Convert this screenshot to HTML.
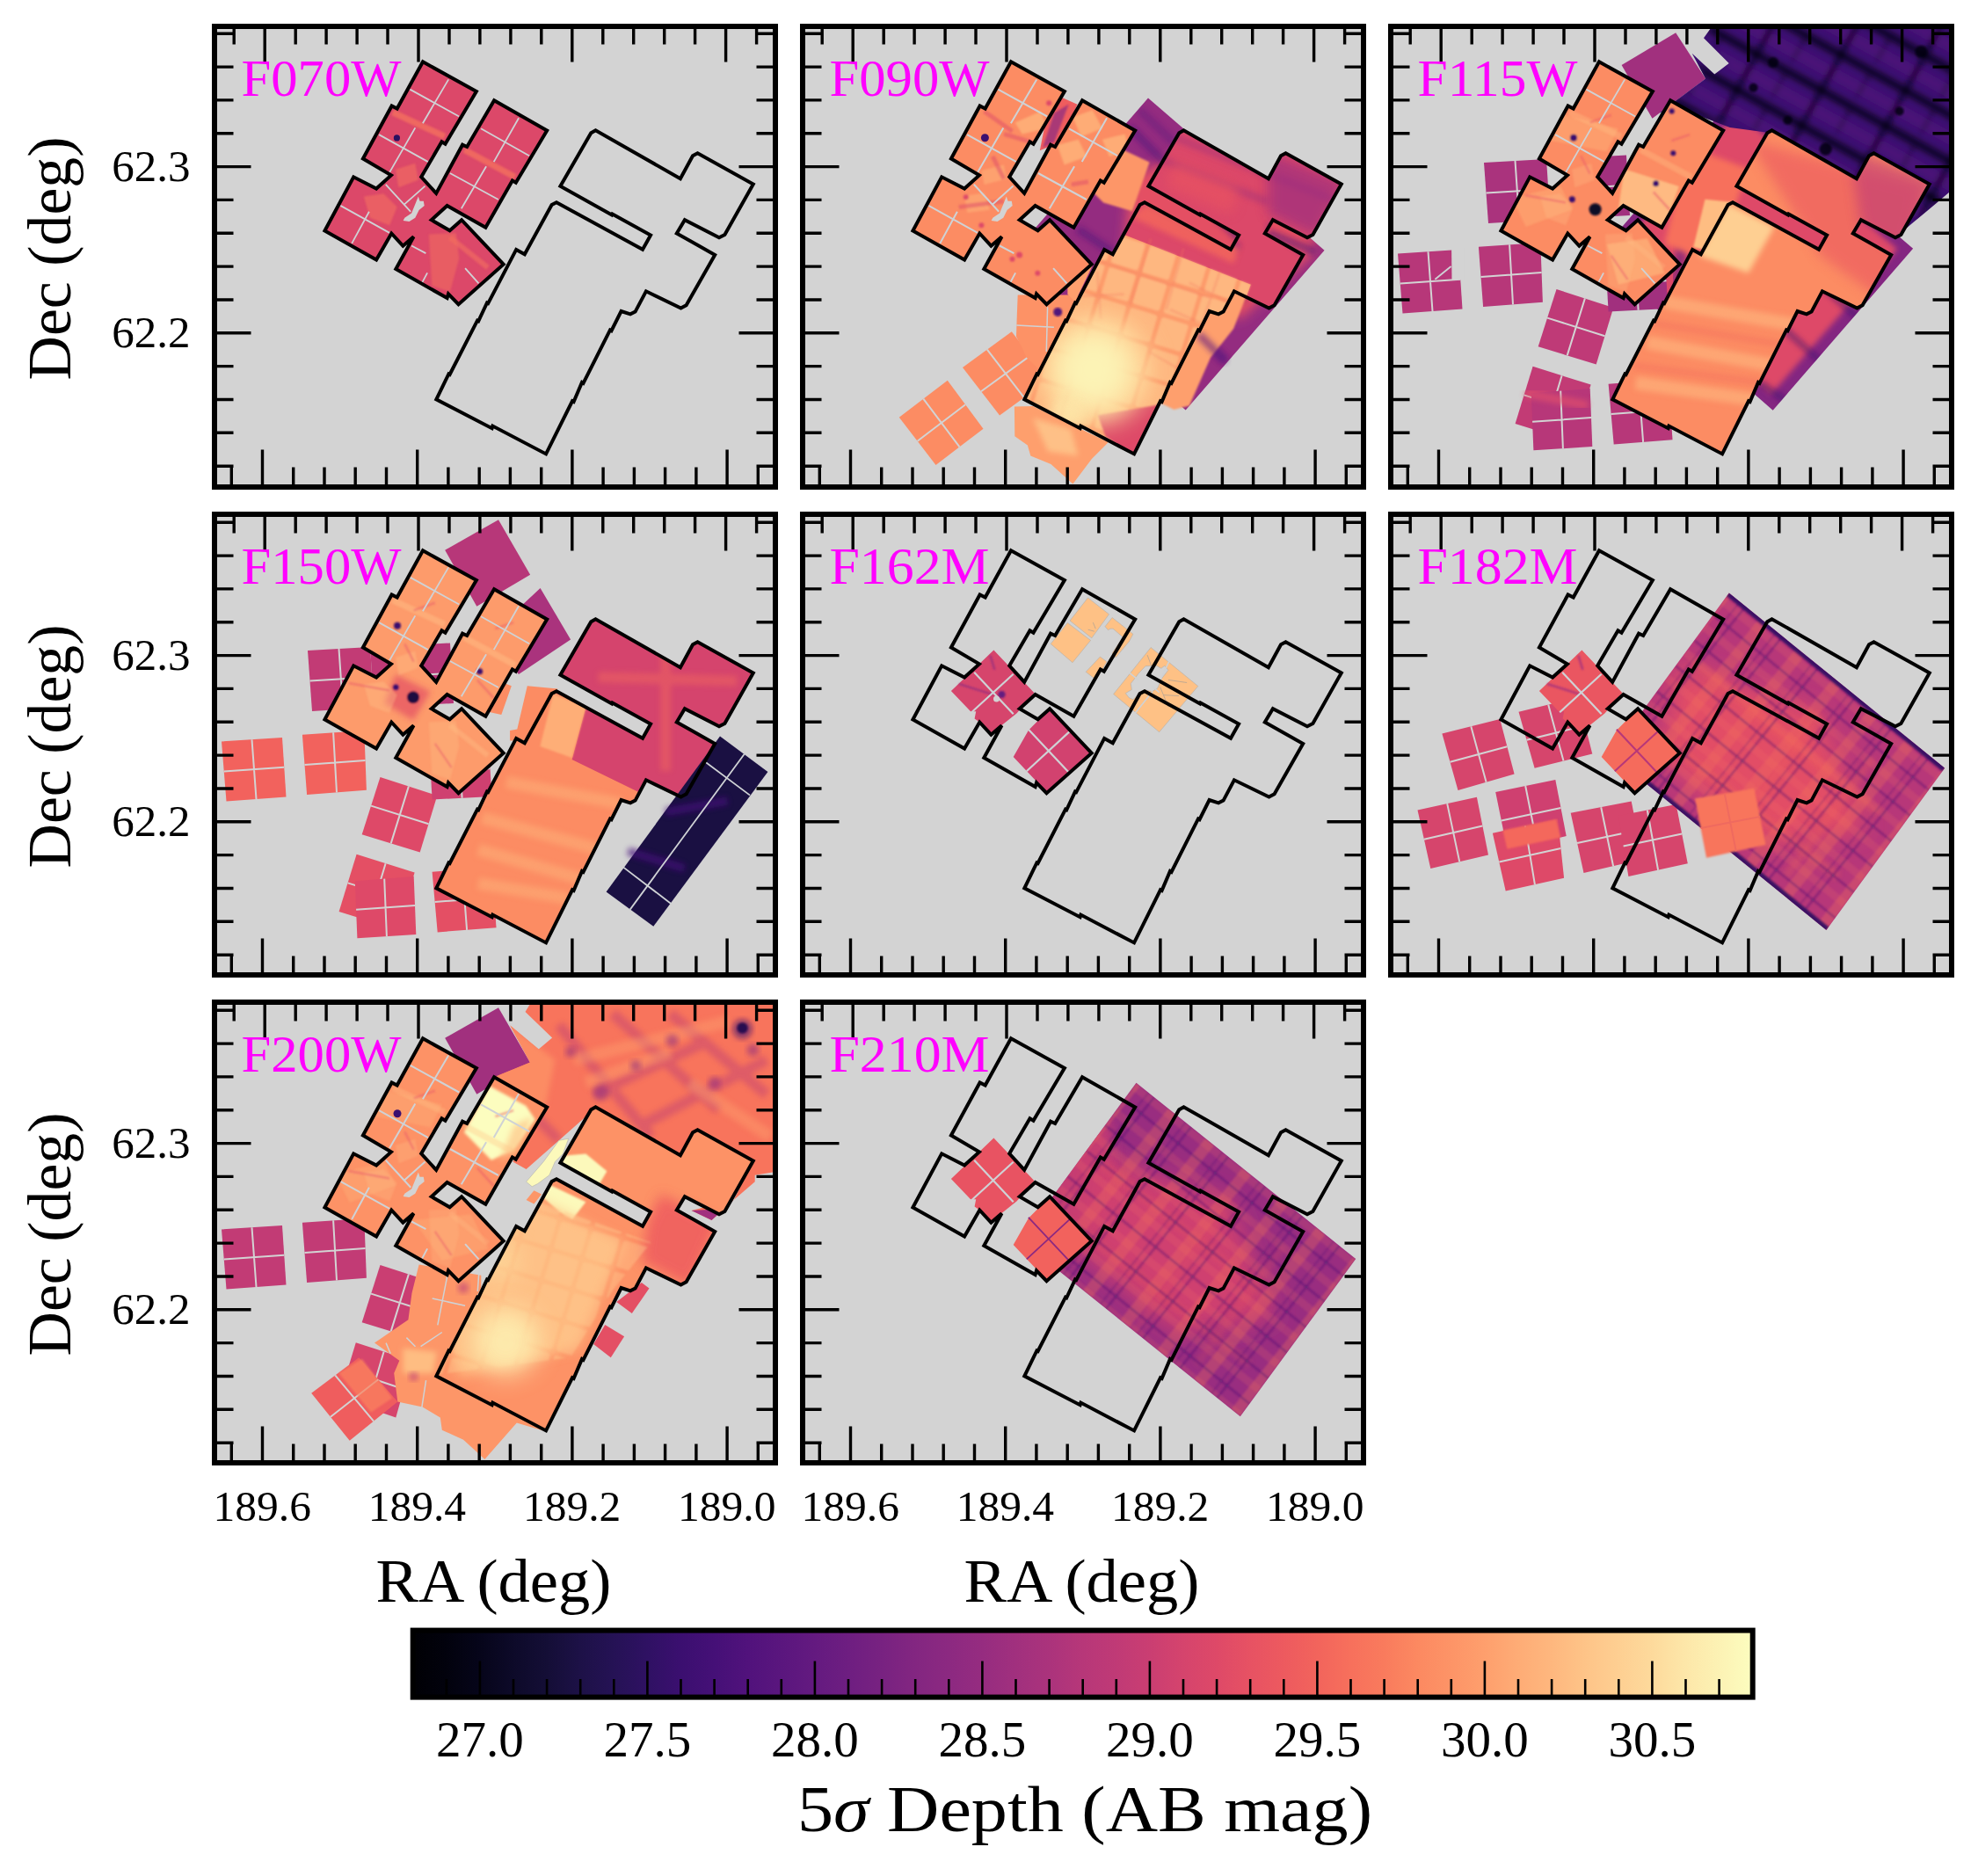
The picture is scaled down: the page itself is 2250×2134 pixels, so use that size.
<!DOCTYPE html>
<html lang="en"><head><meta charset="utf-8"><title>5-sigma depth maps</title>
<style>html,body{margin:0;padding:0;background:#fff}svg{display:block}text{font-family:"Liberation Serif","DejaVu Serif",serif}</style></head><body>
<svg width="2250" height="2134" viewBox="0 0 2250 2134">
<defs>
<clipPath id="cp"><rect x="0" y="0" width="638" height="524"/></clipPath>
<polygon id="oA" points="237,41.3 297.9,75.1 262.5,134.7 258.5,132.3 235.2,172.3 252.2,190.9 282.1,135.7 287.2,138 318.1,85.2 378.2,119.5 342.8,178.8 338.8,176.4 308.4,229.8 264.6,205 246.8,221.2 267.6,233.3 281.1,221.2 328.7,271.7 277.5,317.2 266,305.4 264.6,310.1 206.3,277.1 226.5,240.3 214.4,250.7 201.3,236.5 184.1,266.6 125.4,233.5 158.2,172.3 184.1,185.5 200.9,170.4 168.9,151.5 201.6,91.5 207.7,94.5"/>
<polygon id="oB" points="428.3,122.2 433.5,119.2 529.9,174.3 544,148.2 549.5,145.3 612.8,180.4 580.4,238 574,241.3 534.9,221.2 525.8,236.4 569.2,260.9 536.6,318.2 530.5,321.6 490.9,302.3 478.6,325.6 473,328.4 462.6,325 451.5,347.2 450,346.4 419.5,406.9 418,406 408.6,428.1 407,427.3 377.1,487.4 316.4,455.6 315.6,458.2 252.3,425.3 266.4,396.4 267.6,397 299,335.7 300.2,336.3 310,315.5 311.2,316.1 343.2,254.9 352.8,260.2 383.6,204 389,201.2 487,254.8 496.1,238.6 452.6,214.4 452,215.6 393.4,182.8"/>
<clipPath id="cA"><use href="#oA"/></clipPath><clipPath id="cB"><use href="#oB"/></clipPath>
<filter id="b1" x="-10%" y="-10%" width="120%" height="120%"><feGaussianBlur stdDeviation="1.2"/></filter>
<filter id="b2" x="-20%" y="-20%" width="140%" height="140%"><feGaussianBlur stdDeviation="3"/></filter>
<filter id="b3" x="-30%" y="-30%" width="160%" height="160%"><feGaussianBlur stdDeviation="7"/></filter>
<filter id="b4" x="-40%" y="-40%" width="180%" height="180%"><feGaussianBlur stdDeviation="14"/></filter>
<linearGradient id="mg" x1="0" y1="0" x2="1" y2="0"><stop offset="0%" stop-color="#000004"/><stop offset="2.5%" stop-color="#02020d"/><stop offset="5%" stop-color="#06051a"/><stop offset="7.5%" stop-color="#0d0a29"/><stop offset="10%" stop-color="#140e36"/><stop offset="12.5%" stop-color="#1d1147"/><stop offset="15%" stop-color="#251255"/><stop offset="17.5%" stop-color="#2f1163"/><stop offset="20%" stop-color="#3b0f70"/><stop offset="22.5%" stop-color="#451077"/><stop offset="25%" stop-color="#51127c"/><stop offset="27.5%" stop-color="#5a167e"/><stop offset="30%" stop-color="#641a80"/><stop offset="32.5%" stop-color="#6e1e81"/><stop offset="35%" stop-color="#782281"/><stop offset="37.5%" stop-color="#832681"/><stop offset="40%" stop-color="#8c2981"/><stop offset="42.5%" stop-color="#962c80"/><stop offset="45%" stop-color="#a1307e"/><stop offset="47.5%" stop-color="#ab337c"/><stop offset="50%" stop-color="#b73779"/><stop offset="52.5%" stop-color="#c03a76"/><stop offset="55%" stop-color="#ca3e72"/><stop offset="57.5%" stop-color="#d5446d"/><stop offset="60%" stop-color="#de4968"/><stop offset="62.5%" stop-color="#e75263"/><stop offset="65%" stop-color="#ed5a5f"/><stop offset="67.5%" stop-color="#f2645c"/><stop offset="70%" stop-color="#f7705c"/><stop offset="72.5%" stop-color="#f97b5d"/><stop offset="75%" stop-color="#fc8961"/><stop offset="77.5%" stop-color="#fd9467"/><stop offset="80%" stop-color="#fe9f6d"/><stop offset="82.5%" stop-color="#feac76"/><stop offset="85%" stop-color="#feb77e"/><stop offset="87.5%" stop-color="#fec488"/><stop offset="90%" stop-color="#fecf92"/><stop offset="92.5%" stop-color="#fdda9c"/><stop offset="95%" stop-color="#fde7a9"/><stop offset="97.5%" stop-color="#fcf2b4"/><stop offset="100%" stop-color="#fcfdbf"/></linearGradient>
<path id="tk" d="M22.2 0v21.5M19.3 524v-21.5M57.2 0v41.5M54.5 524v-41.5M92.2 0v21.5M89.7 524v-21.5M127.1 0v21.5M125 524v-21.5M162.1 0v21.5M160.2 524v-21.5M197 0v21.5M195.5 524v-21.5M232 0v41.5M230.7 524v-41.5M267 0v21.5M265.9 524v-21.5M301.9 0v21.5M301.2 524v-21.5M336.9 0v21.5M336.4 524v-21.5M371.8 0v21.5M371.7 524v-21.5M406.8 0v41.5M406.9 524v-41.5M441.8 0v21.5M442.1 524v-21.5M476.7 0v21.5M477.4 524v-21.5M511.7 0v21.5M512.6 524v-21.5M546.6 0v21.5M547.9 524v-21.5M581.6 0v41.5M583.1 524v-41.5M616.6 0v21.5M618.3 524v-21.5M0 9.2h21.5M638 9.2h-21.5M0 47.1h21.5M638 47.1h-21.5M0 84.9h21.5M638 84.9h-21.5M0 122.8h21.5M638 122.8h-21.5M0 160.6h41.5M638 160.6h-41.5M0 198.4h21.5M638 198.4h-21.5M0 236.3h21.5M638 236.3h-21.5M0 274.1h21.5M638 274.1h-21.5M0 312h21.5M638 312h-21.5M0 349.8h41.5M638 349.8h-41.5M0 387.6h21.5M638 387.6h-21.5M0 425.5h21.5M638 425.5h-21.5M0 463.3h21.5M638 463.3h-21.5M0 501.2h21.5M638 501.2h-21.5" stroke="#000" stroke-width="3.4" fill="none"/><rect id="fr" x="0" y="0" width="638" height="524" fill="none" stroke="#000" stroke-width="6"/>
<pattern id="gr6" patternUnits="userSpaceOnUse" width="54" height="36" patternTransform="rotate(39.1)"><rect x="22" y="0" width="13" height="36" fill="#f7705c" opacity="0.30"/><rect x="0" y="14" width="54" height="9" fill="#f7705c" opacity="0.16"/><rect x="0" y="0" width="54" height="2.8" fill="#3b0f70" opacity="0.33"/><rect x="0" y="0" width="2.8" height="36" fill="#3b0f70" opacity="0.33"/><rect x="46" y="0" width="2.2" height="36" fill="#3b0f70" opacity="0.22"/></pattern>
<pattern id="gr8" patternUnits="userSpaceOnUse" width="54" height="36" patternTransform="rotate(38.8)"><rect x="22" y="0" width="13" height="36" fill="#f7705c" opacity="0.30"/><rect x="0" y="14" width="54" height="9" fill="#f7705c" opacity="0.16"/><rect x="0" y="0" width="54" height="2.8" fill="#3b0f70" opacity="0.33"/><rect x="0" y="0" width="2.8" height="36" fill="#3b0f70" opacity="0.33"/><rect x="46" y="0" width="2.2" height="36" fill="#3b0f70" opacity="0.22"/></pattern>
<pattern id="sq2" patternUnits="userSpaceOnUse" width="37" height="37" patternTransform="rotate(17) translate(4 9)"><rect x="2.5" y="2.5" width="32" height="32" rx="3" fill="#fecd92" opacity="0.55"/></pattern>
<pattern id="dk3" patternUnits="userSpaceOnUse" width="84" height="46" patternTransform="rotate(29) translate(10 6)"><rect x="0" y="0" width="84" height="8" fill="#05040f" opacity="0.8"/><rect x="0" y="20" width="84" height="14" fill="#5a1580" opacity="0.45"/><rect x="30" y="0" width="7" height="46" fill="#05040f" opacity="0.6"/><rect x="70" y="8" width="5" height="30" fill="#05040f" opacity="0.3"/></pattern>
</defs>
<rect width="2250" height="2134" fill="#fff"/>
<g transform="translate(244 30)">
<g clip-path="url(#cp)"><rect width="638" height="524" fill="#d3d3d3"/>
<use href="#oA" fill="#dc4869"/>
<g filter="url(#b1)" clip-path="url(#cA)"><path d="M202.6 97.7L261.9 125.2M284.2 140.3L341.8 171.3" stroke="#f46f5f" stroke-width="7" fill="none" opacity="0.8"/><polygon points="206,162.7 228.3,155.8 231.8,174.7 209.4,183.3" fill="#f3705f" opacity="0.6"/><polygon points="169.9,193.6 192.3,190.2 207.7,205.6 199.1,226.3 176.8,217.7" fill="#f3705f" opacity="0.6"/><polygon points="243.8,236.6 274.8,234.9 278.2,264.1 267.9,301.9 247.3,295" fill="#f3705f" opacity="0.55"/><path d="M267.9 240L310.9 274.4" stroke="#f46f5f" stroke-width="6" fill="none" opacity="0.6"/></g>
<path d="M222.3 71.6L278.2 102.5M266.2 60.4L236.9 110.2M187.1 123.1L243 154.1M228.3 115.4L199.1 166.1M303.1 116.3L358.1 147.2M346.1 104.2L317.7 154.1M267.9 167L322.9 197M309.1 159.2L280.8 207.3M143.3 203.9L199.1 234.9M175.9 210.8L156.2 246.9M194.8 179.8L223.2 210.8M239.5 181.6L216.3 202.2M224.1 249.5L240.4 258.1M242.1 280.4L236.1 291.6M285.1 275.2L300.5 292.4" stroke="#cfd2d5" stroke-width="1.8" fill="none"/>
<circle cx="207.4" cy="126.9" r="3.6" fill="#2b1160"/>
<polygon points="216.3,217.7 224.1,212.5 228.3,202.2 231.8,193.6 233.5,198.8 237.8,198.8 238.7,203.9 232.6,209.1 228.3,217.7 221.5,222 214.6,221.1" fill="#d3d3d3"/>
<use href="#oA" fill="none" stroke="#000" stroke-width="4" stroke-linejoin="miter" transform="translate(0 -1)"/>
<use href="#oB" fill="none" stroke="#000" stroke-width="4" stroke-linejoin="miter" transform="translate(0 -1)"/>
</g>
<use href="#tk" transform="translate(0 -1)"/><use href="#fr"/>
<text x="30.5" y="79" font-size="60" fill="#ff00ff" textLength="182" lengthAdjust="spacingAndGlyphs">F070W</text>
</g>
<g transform="translate(913 30)">
<g clip-path="url(#cp)"><rect width="638" height="524" fill="#d3d3d3"/>
<polygon points="393,81.5 593.5,254.7 435.7,436.4 235.3,263.2" fill="#942c80"/>
<clipPath id="k1"><polygon points="393,81.5 593.5,254.7 435.7,436.4 235.3,263.2"/></clipPath><g  clip-path="url(#k1)"><polygon points="372.1,173.6 453,132.1 562.2,173.6 584.1,256.7 496.7,333.2 365.6,256.7" fill="#e44f64" filter="url(#b3)"/><path d="M372.1 114.6L496.7 241.4M450.8 350.6L481.4 381.2M529.5 234.8L584.1 256.7M313.1 230.5L352.4 256.7" stroke="#51127c" stroke-width="9" fill="none" opacity="0.55" filter="url(#b2)"/><path d="M383 95L422.4 132.1M496.7 311.3L540.4 278.5" stroke="#51127c" stroke-width="9" fill="none" opacity="0.35" filter="url(#b2)"/></g>
<polygon points="338.8,128.2 394.6,154.5 374.9,210.3 342.1,200.5 325.6,184" fill="#fd9668" filter="url(#b1)"/>
<polygon points="282.9,75.6 312.5,88.7 292.8,131.4 269.8,141.3 276.3,108.4" fill="#ef5d5e"/>
<polygon points="286.2,98.6 302.6,88.7 286.2,131.4 273,138" fill="#8c2981" opacity="0.7" filter="url(#b1)"/>
<polygon points="109.8,444.8 164.8,402.7 205.5,457.7 151.5,498.9" fill="#fc8c63"/>
<path d="M137.3 423.7L178.5 478.3M185.1 430.2L130.6 471.8" stroke="#d3d3d3" stroke-width="2" fill="none"/>
<polygon points="182,388.1 237.8,347.3 279.9,402 224.1,442.5" fill="#fc8c63"/>
<path d="M209.9 367.7L252 422.3M258.9 374.6L203 415.3" stroke="#d3d3d3" stroke-width="2" fill="none"/>
<polygon points="244.7,305.5 313.4,305.5 313.4,316.7 268.8,390.6 255,376.9 243,352.8 243.8,328.8" fill="#fd9266"/>
<path d="M278.6 319.3L277.3 370M243.3 339.9L285.9 342.2" stroke="#cfd2d5" stroke-width="1.5" fill="none"/>
<circle cx="290.2" cy="325" r="5" fill="#51127c" filter="url(#b1)"/>
<polygon points="240.9,432.4 261.9,431.9 347.8,473.1 328.9,492 307.4,520.4 282.5,498.1 259.3,488.6 255.9,476.6 241.3,466.3" fill="#fe9f6d"/>
<polygon points="261.9,445.6 304.9,457.7 313.4,488.6 279.1,483.4" fill="#fecf92" opacity="0.7" filter="url(#b2)"/>
<polygon points="453,278.5 509.8,293.8 490.1,344.1 463.9,376.9 439.9,431.5 422.4,435.9 387.4,418.4" fill="#fe9f6d" filter="url(#b1)"/>
<polygon points="301.4,272 330.6,270.3 310,313.3 301.4,304.7" fill="#fe9f6d"/>
<path d="M450.8 350.6L481.4 381.2" stroke="#641a80" stroke-width="9" fill="none" opacity="0.6" filter="url(#b2)"/>
<use href="#oA" fill="#fc8c63"/>
<g filter="url(#b1)" clip-path="url(#cA)"><polygon points="241.7,109.6 270.5,96.8 278.5,116 249.7,122.4" fill="#feb47b" opacity="0.8"/><polygon points="307.3,103.2 329.7,95.2 340.9,116 316.9,125.5" fill="#feb47b" opacity="0.8"/><polygon points="289.7,135.1 313.7,128.7 323.3,147.9 297.7,157.5" fill="#feb47b" opacity="0.8"/><polygon points="340.9,128.7 366.5,122.4 371.3,141.5 348.9,147.9" fill="#feb47b" opacity="0.8"/><polygon points="203.4,163.9 228.9,157.5 232.1,173.5 206.6,179.9" fill="#fea973" opacity="0.7"/><polygon points="184.2,192.7 206.6,189.5 213,208.7 187.4,211.9" fill="#fea973" opacity="0.7"/><path d="M206.6 96.8L238.5 119.2M228.9 122.4L260.9 131.9M216.2 147.9L228.9 173.5M177.8 205.5L228.9 199.1M305.7 179.9L324.9 176.7" stroke="#de4968" stroke-width="5" fill="none" opacity="0.5"/><circle cx="246.5" cy="259.9" r="3.5" fill="#de4968"/><circle cx="238.5" cy="264.7" r="3" fill="#de4968"/><circle cx="267.3" cy="280.7" r="3" fill="#de4968"/><circle cx="185.8" cy="194.3" r="3" fill="#de4968"/><circle cx="280.1" cy="87.2" r="3" fill="#de4968"/><circle cx="203.4" cy="226.3" r="3" fill="#de4968"/></g>
<path d="M222.3 71.6L278.2 102.5M266.2 60.4L236.9 110.2M187.1 123.1L243 154.1M228.3 115.4L199.1 166.1M303.1 116.3L358.1 147.2M346.1 104.2L317.7 154.1M267.9 167L322.9 197M309.1 159.2L280.8 207.3M143.3 203.9L199.1 234.9M175.9 210.8L156.2 246.9M194.8 179.8L223.2 210.8M239.5 181.6L216.3 202.2M224.1 249.5L240.4 258.1M242.1 280.4L236.1 291.6M285.1 275.2L300.5 292.4" stroke="#cfd2d5" stroke-width="2" fill="none"/>
<circle cx="207.4" cy="126.8" r="4.5" fill="#3b0f70"/>
<polygon points="216.3,217.7 224.1,212.5 228.3,202.2 231.8,193.6 233.5,198.8 237.8,198.8 238.7,203.9 232.6,209.1 228.3,217.7 221.5,222 214.6,221.1" fill="#d3d3d3"/>
<use href="#oB" fill="#dc4869"/>
<g clip-path="url(#cB)"><path d="M398.3 147.4L529.5 199.9M422.4 125.6L610.3 199.9" stroke="#8c2981" stroke-width="9" fill="none" opacity="0.35" filter="url(#b2)"/><path d="M391.8 199.9L496.7 252.3M529.5 226.1L573.2 256.7" stroke="#641a80" stroke-width="10" fill="none" opacity="0.45" filter="url(#b2)"/><polygon points="529.5,143 616.9,178 584.1,239.2 529.5,213" fill="#9c2e7f" opacity="0.7" filter="url(#b3)"/><polygon points="422.4,151.8 496.7,182.4 487.9,213 413.6,182.4" fill="#e85362" opacity="0.7" filter="url(#b3)"/><polygon points="354.6,232.6 509.8,293.8 481.4,370.3 435.5,438.1 365.6,497.1 212.6,497.1 212.6,300.4" fill="#fd9b6b"/><polygon points="354.6,232.6 509.8,293.8 481.4,370.3 435.5,438.1 365.6,497.1 212.6,497.1 212.6,300.4" fill="url(#sq2)" filter="url(#b1)"/><polygon points="391.8,199.9 496.7,252.3 490.1,269.8 374.3,217.3" fill="#f4675c" opacity="0.8" filter="url(#b2)"/><path d="M339.3 267.6L466.1 309.1M396.2 241.4L372.1 317.9M433.3 252.3L413.6 322.2M439.9 291.6L483.6 313.5M474.8 278.5L453 341.9M418 322.2L468.3 344.1M394 370.3L439.9 396.5M453 387.8L422.4 444.6M317.5 306.9L365.6 304.8M335 278.5L339.3 333.2" stroke="#f4765f" stroke-width="3" fill="none" opacity="0.25" filter="url(#b1)"/><polygon points="335.8,442.2 406.3,430.2 377,490.3 344.4,466.3" fill="#de4968" filter="url(#b1)"/><circle cx="334.1" cy="390.6" r="62" fill="#fedb9c" opacity="0.8" filter="url(#b4)"/><circle cx="330.6" cy="390.6" r="44" fill="#fcf3b5" filter="url(#b4)"/><circle cx="301.4" cy="440.5" r="20" fill="#fde7a9" opacity="0.8" filter="url(#b3)"/></g>
<use href="#oA" fill="none" stroke="#000" stroke-width="4" stroke-linejoin="miter" transform="translate(0 -1)"/>
<use href="#oB" fill="none" stroke="#000" stroke-width="4" stroke-linejoin="miter" transform="translate(0 -1)"/>
</g>
<use href="#tk" transform="translate(0 -1)"/><use href="#fr"/>
<text x="30.5" y="79" font-size="60" fill="#ff00ff" textLength="182" lengthAdjust="spacingAndGlyphs">F090W</text>
</g>
<g transform="translate(1582 30)">
<g clip-path="url(#cp)"><rect width="638" height="524" fill="#d3d3d3"/>
<polygon points="392,79.5 594.1,252.7 434.7,436.7 234.3,261.2" fill="#842681"/>
<clipPath id="k2"><polygon points="392,79.5 594.1,252.7 434.7,436.7 234.3,261.2"/></clipPath><g  clip-path="url(#k2)"><polygon points="394.2,97.3 576.1,253.2 432.6,418.8 252.2,260.9" fill="#de4968" filter="url(#b2)"/><path d="M482.4 287.2L554.7 352.9M442.9 339.8L508.7 398.9M419.9 405.5L462.6 435.1" stroke="#3b0f70" stroke-width="7" fill="none" opacity="0.5" filter="url(#b2)"/><path d="M337.8 208.3L324.6 293.8" stroke="#641a80" stroke-width="12" fill="none" opacity="0.6" filter="url(#b2)"/></g>
<polygon points="262.6,44.1 324.2,7.2 358.1,59.5 297.5,104.7" fill="#a1307e"/>
<polygon points="356,13.3 384.8,42.1 368.3,54.4 342.7,30.8 358.1,59.5 305.7,98.5 324.2,92.4 352.9,102.6 385.8,114.9 430.9,121.1 531.5,172.4 552,145.7 611.6,180.6 574.6,240.1 591,225.8 615.7,205.3 635.2,188.8 669,190.9 669,-8.2 371.4,-8.2" fill="#3b0f70"/>
<clipPath id="k3"><polygon points="356,13.3 384.8,42.1 368.3,54.4 342.7,30.8 358.1,59.5 305.7,98.5 324.2,92.4 352.9,102.6 385.8,114.9 430.9,121.1 531.5,172.4 552,145.7 611.6,180.6 574.6,240.1 591,225.8 615.7,205.3 635.2,188.8 669,190.9 669,-8.2 371.4,-8.2"/></clipPath><g  clip-path="url(#k3)"><polygon points="356,13.3 384.8,42.1 368.3,54.4 342.7,30.8 358.1,59.5 305.7,98.5 324.2,92.4 352.9,102.6 385.8,114.9 430.9,121.1 531.5,172.4 552,145.7 611.6,180.6 574.6,240.1 591,225.8 615.7,205.3 635.2,188.8 669,190.9 669,-8.2 371.4,-8.2" fill="url(#dk3)" filter="url(#b2)"/><circle cx="435" cy="41.1" r="6" fill="#04030f" opacity="0.8" filter="url(#b1)"/><circle cx="494.6" cy="139.6" r="7" fill="#04030f" opacity="0.8" filter="url(#b1)"/><circle cx="603.4" cy="28.7" r="7" fill="#04030f" opacity="0.8" filter="url(#b1)"/><circle cx="578.7" cy="96.5" r="5" fill="#04030f" opacity="0.8" filter="url(#b1)"/><circle cx="412.5" cy="69.8" r="5" fill="#04030f" opacity="0.8" filter="url(#b1)"/><circle cx="451.5" cy="106.7" r="5" fill="#04030f" opacity="0.8" filter="url(#b1)"/></g>
<polygon points="8,258.5 77,254 81.5,321.5 13.5,326.5" fill="#b73779"/>
<path d="M42.5 256.2L47.5 324M79.2 287.8L10.8 292.5" stroke="#d3d3d3" stroke-width="2" fill="none"/>
<polygon points="99.9,250.7 170.3,246 172.9,313.8 105.1,319" fill="#b73779"/>
<path d="M135.1 248.3L139 316.4M171.6 279.9L102.5 284.9" stroke="#d3d3d3" stroke-width="2" fill="none"/>
<polygon points="106,155 177,151 181.5,219.5 111,224" fill="#aa337d"/>
<path d="M141.5 153L146.2 221.8M179.2 185.2L108.5 189.5" stroke="#d3d3d3" stroke-width="2" fill="none"/>
<polygon points="197,150.5 268,146.5 272,215 201,219" fill="#a1307e"/>
<path d="M232.5 148.5L236.5 217M270 180.8L199 184.8" stroke="#d3d3d3" stroke-width="2" fill="none"/>
<polygon points="188.5,299 253.3,319.9 233.7,384.5 167.7,364.2" fill="#bf3a77"/>
<path d="M220.9 309.4L200.7 374.4M243.5 352.2L178.1 331.6" stroke="#d3d3d3" stroke-width="2" fill="none"/>
<polygon points="161.6,386.8 227.6,407.6 208.5,472.8 141.6,451.9" fill="#c23b75"/>
<path d="M194.6 397.2L175.1 462.4M218.1 440.2L151.6 419.4" stroke="#d3d3d3" stroke-width="2" fill="none"/>
<polygon points="159.8,417.2 226.7,412 229.3,478 162.4,482.3" fill="#b73779"/>
<path d="M193.2 414.6L195.9 480.1M228 445L161.1 449.8" stroke="#d3d3d3" stroke-width="2" fill="none"/>
<polygon points="247.6,406.7 316,401.5 320.5,470.2 253.7,475.4" fill="#b73779"/>
<path d="M281.8 404.1L287.1 472.8M318.2 435.9L250.6 441" stroke="#d3d3d3" stroke-width="2" fill="none"/>
<polygon points="244,261 311.5,257.5 315.5,321 247.6,324.5" fill="#a1307e"/>
<path d="M277.8 259.2L281.6 322.8M313.5 289.2L245.8 292.8" stroke="#d3d3d3" stroke-width="2" fill="none"/>
<path d="M50.4 287.7L68.6 273" stroke="#cfd2d5" stroke-width="1.8" fill="none"/>
<polygon points="69.1,252.1 83.4,252.1 83.4,288.3 69.5,288.6" fill="#d3d3d3"/>
<path d="M152.9 417.2L224.1 431.1" stroke="#e8536a" stroke-width="10" fill="none" opacity="0.6" filter="url(#b2)"/>
<polygon points="337.8,136 406.8,162.3 390.3,208.3 344.3,260.9 311.5,247.8" fill="#f7705c" filter="url(#b2)"/>
<polygon points="357.5,196.8 390.3,200.1 367.3,257.6 344.3,251" fill="#febd82" filter="url(#b1)"/>
<use href="#oA" fill="#fc8c63"/>
<g filter="url(#b1)" clip-path="url(#cA)"><polygon points="265.5,162.3 327.9,182 311.5,228 258.9,208.3" fill="#fec68a" opacity="0.8"/><polygon points="245.8,247.8 291.8,241.2 311.5,280.6 258.9,293.8" fill="#feb47b" opacity="0.7"/><polygon points="180,96.6 258.9,116.3 245.8,142.6 180,129.4" fill="#fea973" opacity="0.6"/><polygon points="137.3,195.2 193.2,182 206.3,208.3 153.7,228" fill="#fea973" opacity="0.6"/><circle cx="232.6" cy="208.3" r="7" fill="#0f0828"/><circle cx="206.3" cy="196.8" r="3.5" fill="#3b0f70"/><circle cx="208" cy="126.8" r="4" fill="#3b0f70"/><circle cx="301.6" cy="178.7" r="3.5" fill="#3b0f70"/><circle cx="321.3" cy="144.2" r="3" fill="#3b0f70"/><circle cx="319.7" cy="96.6" r="3" fill="#3b0f70"/></g>
<g filter="url(#b1)" clip-path="url(#cA)"><path d="M202.6 97.7L261.9 125.2M284.2 140.3L341.8 171.3" stroke="#fec287" stroke-width="7" fill="none" opacity="0.35"/><polygon points="206,162.7 228.3,155.8 231.8,174.7 209.4,183.3" fill="#fec287" opacity="0.27999999999999997"/><polygon points="169.9,193.6 192.3,190.2 207.7,205.6 199.1,226.3 176.8,217.7" fill="#fec287" opacity="0.27999999999999997"/><polygon points="243.8,236.6 274.8,234.9 278.2,264.1 267.9,301.9 247.3,295" fill="#fec287" opacity="0.24499999999999997"/><path d="M267.9 240L310.9 274.4" stroke="#fec287" stroke-width="6" fill="none" opacity="0.27999999999999997"/><path d="M216.3 147.2L226.6 167.8M199.1 200.5L152.7 191.9M298.8 188.4L317.7 209.1M250.7 260.6L269.6 288.1M226.6 109.4L250.7 100.8M319.4 130L340.1 123.1" stroke="#e8556a" stroke-width="2.5" fill="none" opacity="0.5"/></g>
<path d="M222.3 71.6L278.2 102.5M266.2 60.4L236.9 110.2M187.1 123.1L243 154.1M228.3 115.4L199.1 166.1M224.1 249.5L240.4 258.1M242.1 280.4L236.1 291.6M285.1 275.2L300.5 292.4" stroke="#cfd2d5" stroke-width="1.8" fill="none"/>
<use href="#oB" fill="#fc8c63"/>
<g clip-path="url(#cB)"><polygon points="383.8,201.7 436.4,228 406.8,280.6 350.9,260.9" fill="#fecf92" filter="url(#b2)"/><path d="M311.5 313.5L462.6 339.8M291.8 359.5L436.4 385.8M278.6 405.5L416.6 425.2" stroke="#feb880" stroke-width="15" fill="none" opacity="0.6" filter="url(#b2)"/><path d="M291.8 336.5L449.5 362.8M275.3 385.8L423.2 405.5" stroke="#f2645c" stroke-width="7" fill="none" opacity="0.35" filter="url(#b2)"/><polygon points="406.8,129.4 604,182 571.1,320.1 488.9,260.9" fill="#ea5661" opacity="0.6" filter="url(#b3)"/><polygon points="521.8,139.3 620.4,175.5 587.5,260.9 534.9,228" fill="#bf3a77" opacity="0.6" filter="url(#b3)"/></g>
<use href="#oA" fill="none" stroke="#000" stroke-width="4" stroke-linejoin="miter" transform="translate(0 -1)"/>
<use href="#oB" fill="none" stroke="#000" stroke-width="4" stroke-linejoin="miter" transform="translate(0 -1)"/>
</g>
<use href="#tk" transform="translate(0 -1)"/><use href="#fr"/>
<text x="30.5" y="79" font-size="60" fill="#ff00ff" textLength="182" lengthAdjust="spacingAndGlyphs">F115W</text>
</g>
<g transform="translate(244 585)">
<g clip-path="url(#cp)"><rect width="638" height="524" fill="#d3d3d3"/>
<polygon points="262.2,40.7 323,6.2 359.1,68.7 298.3,104.8" fill="#b73779"/>
<polygon points="311.5,139.3 370.6,84.1 405.1,142.6 346,182" fill="#aa337d"/>
<polygon points="177,151 197,150.5 201,219 181.5,219.5" fill="#bf3a77"/>
<polygon points="8,258.5 77,254 81.5,321.5 13.5,326.5" fill="#f2625d"/>
<path d="M42.5 256.2L47.5 324M79.2 287.8L10.8 292.5" stroke="#d3d3d3" stroke-width="2" fill="none"/>
<polygon points="99.9,250.7 170.3,246 172.9,313.8 105.1,319" fill="#f2625d"/>
<path d="M135.1 248.3L139 316.4M171.6 279.9L102.5 284.9" stroke="#d3d3d3" stroke-width="2" fill="none"/>
<polygon points="106,155 177,151 181.5,219.5 111,224" fill="#c23b75"/>
<path d="M141.5 153L146.2 221.8M179.2 185.2L108.5 189.5" stroke="#d3d3d3" stroke-width="2" fill="none"/>
<polygon points="197,150.5 268,146.5 272,215 201,219" fill="#b73779"/>
<path d="M232.5 148.5L236.5 217M270 180.8L199 184.8" stroke="#d3d3d3" stroke-width="2" fill="none"/>
<polygon points="188.5,299 253.3,319.9 233.7,384.5 167.7,364.2" fill="#de4968"/>
<path d="M220.9 309.4L200.7 374.4M243.5 352.2L178.1 331.6" stroke="#d3d3d3" stroke-width="2" fill="none"/>
<polygon points="161.6,386.8 227.6,407.6 208.5,472.8 141.6,451.9" fill="#e44f64"/>
<path d="M194.6 397.2L175.1 462.4M218.1 440.2L151.6 419.4" stroke="#d3d3d3" stroke-width="2" fill="none"/>
<polygon points="159.8,417.2 226.7,412 229.3,478 162.4,482.3" fill="#de4968"/>
<path d="M193.2 414.6L195.9 480.1M228 445L161.1 449.8" stroke="#d3d3d3" stroke-width="2" fill="none"/>
<polygon points="247.6,406.7 316,401.5 320.5,470.2 253.7,475.4" fill="#e44f64"/>
<path d="M281.8 404.1L287.1 472.8M318.2 435.9L250.6 441" stroke="#d3d3d3" stroke-width="2" fill="none"/>
<polygon points="244,261 311.5,257.5 315.5,321 247.6,324.5" fill="#cf4070"/>
<path d="M277.8 259.2L281.6 322.8M313.5 289.2L245.8 292.8" stroke="#d3d3d3" stroke-width="2" fill="none"/>
<polygon points="355.8,195.2 390.3,198.5 364.1,257.6 336.1,257.6 336.1,246.1 344.3,244.5" fill="#fc8c63"/>
<polygon points="324.6,190.2 337.8,195.2 326.3,228 311.5,224.7" fill="#fc8c63"/>
<use href="#oA" fill="#fd9b6b"/>
<g filter="url(#b1)" clip-path="url(#cA)"><polygon points="206.3,182 245.8,201.7 226,234.6 193.2,214.9" fill="#e44f64" opacity="0.7" filter="url(#b2)"/><circle cx="226" cy="208.3" r="7" fill="#1a0c40"/><circle cx="206.3" cy="196.8" r="3.5" fill="#3b0f70"/><circle cx="208" cy="126.8" r="4" fill="#3b0f70"/><circle cx="301.6" cy="178.7" r="3.5" fill="#3b0f70"/></g>
<g filter="url(#b1)" clip-path="url(#cA)"><path d="M202.6 97.7L261.9 125.2M284.2 140.3L341.8 171.3" stroke="#fec287" stroke-width="7" fill="none" opacity="0.45"/><polygon points="206,162.7 228.3,155.8 231.8,174.7 209.4,183.3" fill="#fec287" opacity="0.36000000000000004"/><polygon points="169.9,193.6 192.3,190.2 207.7,205.6 199.1,226.3 176.8,217.7" fill="#fec287" opacity="0.36000000000000004"/><polygon points="243.8,236.6 274.8,234.9 278.2,264.1 267.9,301.9 247.3,295" fill="#fec287" opacity="0.315"/><path d="M267.9 240L310.9 274.4" stroke="#fec287" stroke-width="6" fill="none" opacity="0.36000000000000004"/><path d="M216.3 147.2L226.6 167.8M199.1 200.5L152.7 191.9M298.8 188.4L317.7 209.1M250.7 260.6L269.6 288.1M226.6 109.4L250.7 100.8M319.4 130L340.1 123.1" stroke="#e8556a" stroke-width="2.5" fill="none" opacity="0.5"/></g>
<path d="M222.3 71.6L278.2 102.5M266.2 60.4L236.9 110.2M187.1 123.1L243 154.1M228.3 115.4L199.1 166.1M303.1 116.3L358.1 147.2M346.1 104.2L317.7 154.1M267.9 167L322.9 197M309.1 159.2L280.8 207.3" stroke="#cfd2d5" stroke-width="1.8" fill="none"/>
<use href="#oB" fill="#d5446d"/>
<g clip-path="url(#cB)"><polygon points="381,200.2 422.6,218.3 406.6,279.1 485.5,317.4 449.2,355.8 376.7,490.1 236,451.7 236,291.9" fill="#fc8c63"/><polygon points="385.3,204.5 422.6,219.4 406.6,276.9 370.3,264.1" fill="#feae77" filter="url(#b1)"/><path d="M332 304.6L462 329.2M304.3 345.2L438.6 381.4M300 381.4L419.4 415.5M300 419.8L402.3 436.8" stroke="#feb27a" stroke-width="14" fill="none" opacity="0.5" filter="url(#b2)"/><path d="M436.4 185.3L594.2 189.5M513.2 153.3L513.2 291.9" stroke="#f7705c" stroke-width="12" fill="none" opacity="0.4" filter="url(#b2)"/></g>
<polygon points="575,252.4 629.4,292.9 499.3,468.8 445.6,429.4" fill="#1a1042"/>
<g ><path d="M513.2 338.8L583.5 326M470.5 383.5L534.5 402.7" stroke="#44107a" stroke-width="9" fill="none" opacity="0.7" filter="url(#b2)"/></g>
<path d="M602.7 272.7L472.7 449.6M559 282.3L609.1 319.6M465.2 401.6L519.6 443.2" stroke="#cfd2d5" stroke-width="1.8" fill="none"/>
<use href="#oA" fill="none" stroke="#000" stroke-width="4" stroke-linejoin="miter"/>
<use href="#oB" fill="none" stroke="#000" stroke-width="4" stroke-linejoin="miter"/>
</g>
<use href="#tk"/><use href="#fr"/>
<text x="30.5" y="79" font-size="60" fill="#ff00ff" textLength="182" lengthAdjust="spacingAndGlyphs">F150W</text>
</g>
<g transform="translate(913 585)">
<g clip-path="url(#cp)"><rect width="638" height="524" fill="#d3d3d3"/>
<polygon points="168.9,201 217.4,154.5 263.3,203.1 243.7,226.3 226.5,239.9 214.4,250.6 201.3,236.4 195.6,232.4 197.2,224.3 191.1,224.3" fill="#d6456c"/>
<g filter="url(#b1)"><path d="M178 193L216.4 205.1M213.4 160.6L218.4 176.8" stroke="#8c2981" stroke-width="2" fill="none" opacity="0.8"/><circle cx="226.5" cy="205.1" r="4" fill="#641a80"/></g>
<path d="M195.2 179.8L239.7 227.3M239.7 181.8L192.2 225.3" stroke="#cfd2d5" stroke-width="2.2" fill="none"/>
<circle cx="220.5" cy="210.1" r="3.5" fill="#d3d3d3"/>
<polygon points="280.1,221.9 327.2,271.7 277.5,316.2 266.6,304.4 239.7,276.1 256.9,245.8 269,233.6" fill="#d2426f"/>
<path d="M256.9 244.8L302.4 293.3M303.4 247.4L254.8 292.3" stroke="#cfd2d5" stroke-width="2.2" fill="none"/>
<polygon points="304,121.1 324.5,94.9 348.5,113.7 328.8,140.8" fill="#fec185" stroke="#a9a9a9" stroke-width="0.5"/>
<polygon points="282.2,147.4 301.4,123.4 327.6,143.4 307,168.7" fill="#fec185" stroke="#a9a9a9" stroke-width="0.5"/>
<polygon points="344,127.7 352.1,117.5 375.9,136.3 371.3,144.9 370.3,145.9 356.1,163.1 352.1,158 364.2,139.8 353.1,130.2 350,130.2 347.5,131.7" fill="#fec185" stroke="#a9a9a9" stroke-width="0.5"/>
<polygon points="322.2,179.3 338.4,162.1 346,167.7 333.8,188.4" fill="#fec185" stroke="#a9a9a9" stroke-width="0.5"/>
<polygon points="396.1,151.5 449.8,195.5 405.7,247.7 353.6,204.6" fill="#fec185" stroke="#a9a9a9" stroke-width="0.5"/>
<polygon points="381.9,181.3 390,172.7 402.7,172.2 407.8,175.3 411.8,172.2 415.9,177.3 408.8,186.4 403.7,198 397.6,201.6 388.5,199.6 381.4,205.6 375.9,210.7 371.3,208.7 367.3,203.6 374.3,199.6 373.3,192.5 378.9,185.4" fill="#d3d3d3" stroke="#a9a9a9" stroke-width="0.5"/>
<path d="M371.8 180.3L382.4 188.9M378.4 225.9L398.1 201.6M416.9 167.2L407.3 187.4M397.6 195.5L405.7 202.6" stroke="#cfd2d5" stroke-width="1.6" fill="none"/>
<path d="M392.1 160.1L396.6 172.2M415.9 188.4L437.1 191.5M406.7 196.5L415.9 218.8M410.8 205.6L428 206.6M324.7 131.2L331.8 133.2M330.3 123.1L333.3 130.2" stroke="#999" stroke-width="0.6" fill="none"/>
<use href="#oA" fill="none" stroke="#000" stroke-width="4" stroke-linejoin="miter"/>
<use href="#oB" fill="none" stroke="#000" stroke-width="4" stroke-linejoin="miter"/>
</g>
<use href="#tk"/><use href="#fr"/>
<text x="30.5" y="79" font-size="60" fill="#ff00ff" textLength="182" lengthAdjust="spacingAndGlyphs">F162M</text>
</g>
<g transform="translate(1582 585)">
<g clip-path="url(#cp)"><rect width="638" height="524" fill="#d3d3d3"/>
<polygon points="58.4,249.4 124.2,233 140.6,295.4 76.5,314.1" fill="#d6456c"/>
<path d="M91.3 241.2L108.6 304.8M132.4 264.2L67.5 281.8" stroke="#d3d3d3" stroke-width="2" fill="none"/>
<polygon points="145.5,224.7 212.9,208.3 229.3,272.4 163.6,288.8" fill="#d6456c"/>
<path d="M179.2 216.5L196.5 280.6M221.1 240.4L154.6 256.8" stroke="#d3d3d3" stroke-width="2" fill="none"/>
<polygon points="30.5,336.5 97.9,321.7 111,387.4 45.3,402.9" fill="#d6456c"/>
<path d="M64.2 329.1L78.2 395.1M104.4 354.6L37.9 369.7" stroke="#d3d3d3" stroke-width="2" fill="none"/>
<polygon points="119.2,316.1 187.3,302 199.7,366.1 132.4,380.8" fill="#cf4070"/>
<path d="M153.2 309L166.1 373.5M193.5 334L125.8 348.5" stroke="#d3d3d3" stroke-width="2" fill="none"/>
<polygon points="115.9,362.8 189.9,346.3 197.1,413.7 130.7,428.5" fill="#de4968"/>
<path d="M152.9 354.6L163.9 421.1M193.5 380L123.3 395.6" stroke="#d3d3d3" stroke-width="2" fill="none"/>
<polygon points="204.7,339.8 273.7,326.6 286.8,392.3 219.5,408.1" fill="#d6456c"/>
<path d="M239.2 333.2L253.1 400.2M280.3 359.5L212.1 373.9" stroke="#d3d3d3" stroke-width="2" fill="none"/>
<polygon points="258.9,343.1 324.6,329.9 337.8,397.3 270.4,412.1" fill="#d6456c"/>
<path d="M291.8 336.5L304.1 404.7M331.2 363.6L264.6 377.6" stroke="#d3d3d3" stroke-width="2" fill="none"/>
<polygon points="127.4,359.5 188.2,347 193.2,367.7 132.4,380.8" fill="#f4675c" filter="url(#b1)"/>
<polygon points="384.8,89.4 630.2,288.8 495.5,472.9 250,273.4" fill="#b73779"/>
<clipPath id="k4"><polygon points="384.8,89.4 630.2,288.8 495.5,472.9 250,273.4"/></clipPath><g  clip-path="url(#k4)"><polygon points="324.6,168.9 488.9,228 538.2,359.5 423.2,375.9 308.2,277.3" fill="#e24d66" filter="url(#b4)"/><path d="M344.3 168.9L554.7 339.8M301.6 247.8L508.7 412.1" stroke="#f2645c" stroke-width="10" fill="none" opacity="0.35" filter="url(#b2)"/><path d="M488.9 228L377.2 375.9M548.1 277.3L449.5 412.1" stroke="#f2645c" stroke-width="9" fill="none" opacity="0.3" filter="url(#b2)"/><polygon points="384.8,89.4 630.2,288.8 495.5,472.9 250,273.4" fill="url(#gr6)" filter="url(#b1)"/><path d="M384.8 89.4L630.2 288.8M495.5 472.9L250 273.4" stroke="#2f1163" stroke-width="9" fill="none" opacity="0.9" filter="url(#b1)"/></g>
<polygon points="346,323.3 413.4,311.8 426.5,375.9 359.1,390.7" fill="#f8745c" filter="url(#b1)"/>
<path d="M379.7 317.6L392.8 383.3M419.9 343.9L352.6 357" stroke="#ef6a5f" stroke-width="2" fill="none"/>
<polygon points="168.9,201 217.4,154.5 263.3,203.1 243.7,226.3 226.5,239.9 214.4,250.6 201.3,236.4 195.6,232.4 197.2,224.3 191.1,224.3" fill="#ea5661"/>
<g filter="url(#b1)"><path d="M178 193L216.4 205.1M213.4 160.6L218.4 176.8" stroke="#a1307e" stroke-width="2.5" fill="none" opacity="0.8"/></g>
<path d="M195.2 179.8L239.7 227.3M239.7 181.8L192.2 225.3" stroke="#cfd2d5" stroke-width="2.2" fill="none"/>
<polygon points="280.1,221.9 327.2,271.7 277.5,316.2 266.6,304.4 239.7,276.1 256.9,245.8 269,233.6" fill="#f56b5c"/>
<path d="M256.9 244.8L302.4 293.3M303.4 247.4L254.8 292.3" stroke="#b73779" stroke-width="2" fill="none"/>
<use href="#oA" fill="none" stroke="#000" stroke-width="4" stroke-linejoin="miter"/>
<use href="#oB" fill="none" stroke="#000" stroke-width="4" stroke-linejoin="miter"/>
</g>
<use href="#tk"/><use href="#fr"/>
<text x="30.5" y="79" font-size="60" fill="#ff00ff" textLength="182" lengthAdjust="spacingAndGlyphs">F182M</text>
</g>
<g transform="translate(244 1140)">
<g clip-path="url(#cp)"><rect width="638" height="524" fill="#d3d3d3"/>
<polygon points="262.2,40.7 323,6.2 359.1,68.7 298.3,104.8" fill="#a1307e"/>
<polygon points="353.5,10.9 384.1,40.4 368.8,53.5 336.1,26.2 359,68.6 318.1,85.2 376.5,118 339.3,181.4 354.6,190.1 391.8,157.3 431.1,122.4 529.5,174.8 551.3,146.4 612.5,181.4 590.6,225.1 565.5,248 542.6,237.1 590.6,225.1 614.7,204.3 614.7,196.7 671.5,187.9 671.5,-8.7 365.6,-8.7" fill="#f8745c"/>
<clipPath id="k5"><polygon points="353.5,10.9 384.1,40.4 368.8,53.5 336.1,26.2 359,68.6 318.1,85.2 376.5,118 339.3,181.4 354.6,190.1 391.8,157.3 431.1,122.4 529.5,174.8 551.3,146.4 612.5,181.4 590.6,225.1 565.5,248 542.6,237.1 590.6,225.1 614.7,204.3 614.7,196.7 671.5,187.9 671.5,-8.7 365.6,-8.7"/></clipPath><g  clip-path="url(#k5)"><polygon points="336.1,26.2 387.4,65.6 376.5,118 339.3,181.4 318.1,85.2" fill="#fc8c63" filter="url(#b2)"/><path d="M391.8 26.2L496.7 153M453 13.1L573.2 122.4M518.5 13.1L627.8 104.9M365.6 131.1L391.8 157.3M431.1 104.9L562.2 43.7M485.8 139.9L627.8 65.6" stroke="#b73779" stroke-width="12" fill="none" opacity="0.4" filter="url(#b2)"/><path d="M409.3 65.6L584.1 21.9M422.4 91.8L518.5 56.8M540.4 91.8L632.2 153" stroke="#fe9f6d" stroke-width="14" fill="none" opacity="0.45" filter="url(#b2)"/><circle cx="439.9" cy="102.7" r="9" fill="#8c2981" opacity="0.55" filter="url(#b2)"/><circle cx="520.7" cy="43.7" r="7" fill="#8c2981" opacity="0.55" filter="url(#b2)"/><circle cx="568.8" cy="91.8" r="7" fill="#8c2981" opacity="0.55" filter="url(#b2)"/><circle cx="404.9" cy="56.8" r="6" fill="#8c2981" opacity="0.55" filter="url(#b2)"/><circle cx="581.9" cy="185.8" r="6" fill="#8c2981" opacity="0.55" filter="url(#b2)"/><circle cx="479.2" cy="72.1" r="6" fill="#8c2981" opacity="0.55" filter="url(#b2)"/><circle cx="612.5" cy="54.6" r="7" fill="#8c2981" opacity="0.55" filter="url(#b2)"/><circle cx="600.5" cy="29.5" r="6" fill="#0b0724" filter="url(#b1)"/><circle cx="600.5" cy="30.6" r="11" fill="#3b0f70" opacity="0.6" filter="url(#b2)"/></g>
<polygon points="457.3,340.9 485.8,319.1 494.5,325.6 474.8,354" fill="#e44f64"/>
<polygon points="431.1,389 444.2,367.1 466.1,380.2 450.8,404.3" fill="#e44f64"/>
<polygon points="542.6,237.1 565.5,248 590.6,225.1 575.3,240.4 562.2,236" fill="#a1307e"/>
<polygon points="8,258.5 77,254 81.5,321.5 13.5,326.5" fill="#c23b75"/>
<path d="M42.5 256.2L47.5 324M79.2 287.8L10.8 292.5" stroke="#d3d3d3" stroke-width="2" fill="none"/>
<polygon points="99.9,250.7 170.3,246 172.9,313.8 105.1,319" fill="#c23b75"/>
<path d="M135.1 248.3L139 316.4M171.6 279.9L102.5 284.9" stroke="#d3d3d3" stroke-width="2" fill="none"/>
<polygon points="188.5,299 253.3,319.9 233.7,384.5 167.7,364.2" fill="#ca3e72"/>
<path d="M220.9 309.4L200.7 374.4M243.5 352.2L178.1 331.6" stroke="#d3d3d3" stroke-width="2" fill="none"/>
<polygon points="160.8,387.2 224.5,407.8 206.3,472.6 141.6,450.3" fill="#d6456c"/>
<path d="M192.6 397.5L173.9 461.4M215.4 440.2L151.2 418.8" stroke="#d3d3d3" stroke-width="2" fill="none"/>
<polygon points="232.6,298.6 303.3,310.8 303.3,324.9 252.8,422 378.2,488.7 343.8,478.6 307.4,520.1 283.1,497.8 258.8,486.7 256.8,472.6 236.6,460.4 208.3,454.4 204.2,422 210.3,407.8 182,387.6 208.3,369.4 220.4,361.3 224.5,331" fill="#fd9668"/>
<clipPath id="k6"><polygon points="232.6,298.6 303.3,310.8 303.3,324.9 252.8,422 378.2,488.7 343.8,478.6 307.4,520.1 283.1,497.8 258.8,486.7 256.8,472.6 236.6,460.4 208.3,454.4 204.2,422 210.3,407.8 182,387.6 208.3,369.4 220.4,361.3 224.5,331"/></clipPath><g  clip-path="url(#k6)"><polygon points="214.4,393.7 252.8,397.7 248.7,422 214.4,422" fill="#febd82" filter="url(#b2)"/><circle cx="283.1" cy="324.9" r="6" fill="#b73779" opacity="0.6" filter="url(#b2)"/><circle cx="226.5" cy="426" r="5" fill="#b73779" opacity="0.6" filter="url(#b2)"/></g>
<path d="M264.9 310.8L253.8 367.4M247.7 337.1L285.1 345.2M301.3 300.7L299.3 329M240.6 430.1L235.6 462.4M218.4 381.6L228.5 391.7M234.6 391.7L258.8 375.5M195.1 387.6L200.2 399.8" stroke="#cfd2d5" stroke-width="1.5" fill="none"/>
<polygon points="110.2,444.7 164.2,404.2 208.3,454.4 153.7,498.8" fill="#ef5d5e"/>
<path d="M137.2 424.4L181 476.6M186.2 429.3L132 471.7" stroke="#d3d3d3" stroke-width="2" fill="none"/>
<polygon points="141.6,422 167.8,405.8 202.2,450.3 178,466.5" fill="#fb835f" opacity="0.7" filter="url(#b1)"/>
<polygon points="354.6,204.3 374.3,181.4 391.8,157.3 402.7,155.2 396.2,172.6 387.4,181.4 380.9,196.7 367.7,206.5 361.2,209.8" fill="#fcf9bb" stroke="#a9a9a9" stroke-width="0.5"/>
<polygon points="354.6,225.1 363.4,214.2 372.1,218.5 363.4,229.5" fill="#fd9668"/>
<use href="#oA" fill="#fd9266"/>
<g filter="url(#b1)" clip-path="url(#cA)"><polygon points="313.1,95.6 354.4,118 364.7,133.4 340.6,167.8 314.9,179.8 283.9,148.1" fill="#fcfdbf" filter="url(#b1)"/><polygon points="340.6,140.3 361.3,130 347.5,167.8 323.4,181.6" fill="#fec68a" opacity="0.7" filter="url(#b2)"/><polygon points="180,96.6 258.9,116.3 245.8,142.6 180,129.4" fill="#fea973" opacity="0.5"/><polygon points="137.3,195.2 193.2,182 206.3,208.3 153.7,228" fill="#fea973" opacity="0.5"/><polygon points="226,247.8 291.8,241.2 311.5,280.6 258.9,293.8" fill="#fea973" opacity="0.5"/></g>
<g filter="url(#b1)" clip-path="url(#cA)"><path d="M202.6 97.7L261.9 125.2M284.2 140.3L341.8 171.3" stroke="#fec287" stroke-width="7" fill="none" opacity="0.35"/><polygon points="206,162.7 228.3,155.8 231.8,174.7 209.4,183.3" fill="#fec287" opacity="0.27999999999999997"/><polygon points="169.9,193.6 192.3,190.2 207.7,205.6 199.1,226.3 176.8,217.7" fill="#fec287" opacity="0.27999999999999997"/><polygon points="243.8,236.6 274.8,234.9 278.2,264.1 267.9,301.9 247.3,295" fill="#fec287" opacity="0.24499999999999997"/><path d="M267.9 240L310.9 274.4" stroke="#fec287" stroke-width="6" fill="none" opacity="0.27999999999999997"/><path d="M216.3 147.2L226.6 167.8M199.1 200.5L152.7 191.9M298.8 188.4L317.7 209.1M250.7 260.6L269.6 288.1M226.6 109.4L250.7 100.8M319.4 130L340.1 123.1" stroke="#e8556a" stroke-width="2.5" fill="none" opacity="0.5"/></g>
<path d="M222.3 71.6L278.2 102.5M266.2 60.4L236.9 110.2M187.1 123.1L243 154.1M228.3 115.4L199.1 166.1M303.1 116.3L358.1 147.2M346.1 104.2L317.7 154.1M267.9 167L322.9 197M309.1 159.2L280.8 207.3M143.3 203.9L199.1 234.9M175.9 210.8L156.2 246.9M194.8 179.8L223.2 210.8M239.5 181.6L216.3 202.2M224.1 249.5L240.4 258.1M242.1 280.4L236.1 291.6M285.1 275.2L300.5 292.4" stroke="#cfd2d5" stroke-width="2" fill="none"/>
<circle cx="208" cy="126.8" r="4.5" fill="#3b0f70"/>
<polygon points="216.3,217.7 224.1,212.5 228.3,202.2 231.8,193.6 233.5,198.8 237.8,198.8 238.7,203.9 232.6,209.1 228.3,217.7 221.5,222 214.6,221.1" fill="#d3d3d3"/>
<use href="#oB" fill="#fd9266"/>
<g clip-path="url(#cB)"><polygon points="507.6,218.5 573.2,251.3 540.4,323.4 485.8,295 492.3,251.3" fill="#ee5b5e" opacity="0.85" filter="url(#b3)"/><polygon points="396.2,174.8 422.4,172.6 446.4,192.3 431.1,218.5 394,196.7" fill="#fcf9bb" filter="url(#b1)"/><polygon points="376.5,205.4 422.4,227.3 407.1,246.9 391.8,238.2 372.1,220.7" fill="#fcf9bb" filter="url(#b1)"/><polygon points="354.6,218.5 466.1,273.2 413.6,393.4 278.1,426.1 245.4,316.9" fill="#fec185" opacity="0.85" filter="url(#b3)"/><polygon points="343.7,218.5 496.7,273.2 453,327.8 404.9,404.3 234.4,426.1 234.4,262.2" fill="url(#sq2)" opacity="0.7" filter="url(#b1)"/><circle cx="331.2" cy="385.8" r="38" fill="#fdeeb0" opacity="0.9" filter="url(#b4)"/><circle cx="324.6" cy="293.8" r="22" fill="#fde2a3" opacity="0.6" filter="url(#b4)"/></g>
<use href="#oA" fill="none" stroke="#000" stroke-width="4" stroke-linejoin="miter"/>
<use href="#oB" fill="none" stroke="#000" stroke-width="4" stroke-linejoin="miter"/>
</g>
<use href="#tk"/><use href="#fr"/>
<text x="30.5" y="79" font-size="60" fill="#ff00ff" textLength="182" lengthAdjust="spacingAndGlyphs">F200W</text>
</g>
<g transform="translate(913 1140)">
<g clip-path="url(#cp)"><rect width="638" height="524" fill="#d3d3d3"/>
<polygon points="379.5,91.7 629.2,292.1 497.8,471.2 248,270.8" fill="#992d80"/>
<clipPath id="k7"><polygon points="379.5,91.7 629.2,292.1 497.8,471.2 248,270.8"/></clipPath><g  clip-path="url(#k7)"><polygon points="323.6,168.9 487.9,228 537.2,359.5 422.2,375.9 307.2,277.3" fill="#cf4070" filter="url(#b4)"/><polygon points="290.8,168.9 349.9,129.4 356.5,228 307.2,293.8 274.3,260.9" fill="#cf4070" opacity="0.8" filter="url(#b3)"/><path d="M336.8 182L533.9 339.8M300.6 247.8L507.7 412.1" stroke="#ed5a5f" stroke-width="10" fill="none" opacity="0.25" filter="url(#b2)"/><path d="M487.9 228L376.2 375.9M547.1 277.3L448.5 412.1" stroke="#ed5a5f" stroke-width="9" fill="none" opacity="0.2" filter="url(#b2)"/><polygon points="379.5,91.7 629.2,292.1 497.8,471.2 248,270.8" fill="url(#gr8)" filter="url(#b1)"/></g>
<polygon points="168.9,201 217.4,154.5 263.3,203.1 243.7,226.3 226.5,239.9 214.4,250.6 201.3,236.4 195.6,232.4 197.2,224.3 191.1,224.3" fill="#e85362"/>
<path d="M195.2 179.8L239.7 227.3M239.7 181.8L192.2 225.3" stroke="#cfd2d5" stroke-width="2.2" fill="none"/>
<polygon points="280.1,221.9 327.2,271.7 277.5,316.2 266.6,304.4 239.7,276.1 256.9,245.8 269,233.6" fill="#f2625d"/>
<path d="M256.9 244.8L302.4 293.3M303.4 247.4L254.8 292.3" stroke="#8c2981" stroke-width="1.8" fill="none"/>
<use href="#oA" fill="none" stroke="#000" stroke-width="4" stroke-linejoin="miter"/>
<use href="#oB" fill="none" stroke="#000" stroke-width="4" stroke-linejoin="miter"/>
</g>
<use href="#tk"/><use href="#fr"/>
<text x="30.5" y="79" font-size="60" fill="#ff00ff" textLength="182" lengthAdjust="spacingAndGlyphs">F210M</text>
</g>
<text x="216.5" y="206.1" font-size="51" text-anchor="end">62.3</text>
<text x="216.5" y="395.3" font-size="51" text-anchor="end">62.2</text>
<text transform="translate(80 294) rotate(-90)" font-size="69.5" text-anchor="middle" textLength="277" lengthAdjust="spacingAndGlyphs">Dec (deg)</text>
<text x="216.5" y="762.1" font-size="51" text-anchor="end">62.3</text>
<text x="216.5" y="951.3" font-size="51" text-anchor="end">62.2</text>
<text transform="translate(80 849) rotate(-90)" font-size="69.5" text-anchor="middle" textLength="277" lengthAdjust="spacingAndGlyphs">Dec (deg)</text>
<text x="216.5" y="1317.1" font-size="51" text-anchor="end">62.3</text>
<text x="216.5" y="1506.3" font-size="51" text-anchor="end">62.2</text>
<text transform="translate(80 1404) rotate(-90)" font-size="69.5" text-anchor="middle" textLength="277" lengthAdjust="spacingAndGlyphs">Dec (deg)</text>
<text x="298.2" y="1730" font-size="49.5" text-anchor="middle">189.6</text>
<text x="474.4" y="1730" font-size="49.5" text-anchor="middle">189.4</text>
<text x="650.6" y="1730" font-size="49.5" text-anchor="middle">189.2</text>
<text x="826.8" y="1730" font-size="49.5" text-anchor="middle">189.0</text>
<text x="561.5" y="1822" font-size="69.5" text-anchor="middle" textLength="268" lengthAdjust="spacingAndGlyphs">RA (deg)</text>
<text x="967.2" y="1730" font-size="49.5" text-anchor="middle">189.6</text>
<text x="1143.4" y="1730" font-size="49.5" text-anchor="middle">189.4</text>
<text x="1319.6" y="1730" font-size="49.5" text-anchor="middle">189.2</text>
<text x="1495.8" y="1730" font-size="49.5" text-anchor="middle">189.0</text>
<text x="1230.5" y="1822" font-size="69.5" text-anchor="middle" textLength="268" lengthAdjust="spacingAndGlyphs">RA (deg)</text>
<rect x="469.7" y="1854.6" width="1524" height="76" fill="url(#mg)"/>
<path d="M507.8 1930.6v-20.5M545.9 1930.6v-41M584 1930.6v-20.5M622.1 1930.6v-20.5M660.2 1930.6v-20.5M698.3 1930.6v-20.5M736.4 1930.6v-41M774.5 1930.6v-20.5M812.6 1930.6v-20.5M850.7 1930.6v-20.5M888.8 1930.6v-20.5M926.9 1930.6v-41M965 1930.6v-20.5M1003.1 1930.6v-20.5M1041.2 1930.6v-20.5M1079.3 1930.6v-20.5M1117.4 1930.6v-41M1155.5 1930.6v-20.5M1193.6 1930.6v-20.5M1231.7 1930.6v-20.5M1269.8 1930.6v-20.5M1307.9 1930.6v-41M1346 1930.6v-20.5M1384.1 1930.6v-20.5M1422.2 1930.6v-20.5M1460.3 1930.6v-20.5M1498.4 1930.6v-41M1536.5 1930.6v-20.5M1574.6 1930.6v-20.5M1612.7 1930.6v-20.5M1650.8 1930.6v-20.5M1688.9 1930.6v-41M1727 1930.6v-20.5M1765.1 1930.6v-20.5M1803.2 1930.6v-20.5M1841.3 1930.6v-20.5M1879.4 1930.6v-41M1917.5 1930.6v-20.5M1955.6 1930.6v-20.5" stroke="#000" stroke-width="2.6" fill="none"/>
<rect x="469.7" y="1854.6" width="1524" height="76" fill="none" stroke="#000" stroke-width="6"/>
<text x="545.9" y="1998" font-size="57" text-anchor="middle">27.0</text>
<text x="736.4" y="1998" font-size="57" text-anchor="middle">27.5</text>
<text x="926.9" y="1998" font-size="57" text-anchor="middle">28.0</text>
<text x="1117.4" y="1998" font-size="57" text-anchor="middle">28.5</text>
<text x="1307.9" y="1998" font-size="57" text-anchor="middle">29.0</text>
<text x="1498.4" y="1998" font-size="57" text-anchor="middle">29.5</text>
<text x="1688.9" y="1998" font-size="57" text-anchor="middle">30.0</text>
<text x="1879.4" y="1998" font-size="57" text-anchor="middle">30.5</text>
<text x="1234" y="2083" font-size="73" text-anchor="middle" textLength="654" lengthAdjust="spacingAndGlyphs">5<tspan font-style="italic">σ</tspan> Depth (AB mag)</text>
</svg></body></html>
